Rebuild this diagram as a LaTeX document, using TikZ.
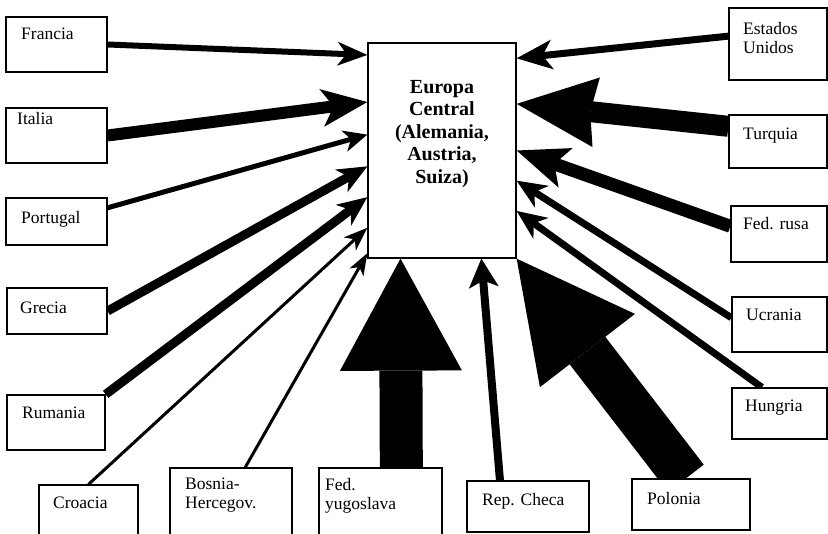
\documentclass[tikz,border=0pt]{standalone}
\usepackage{fontspec}
\setmainfont{Liberation Serif}
\usetikzlibrary{arrows.meta}
\usetikzlibrary{backgrounds}
\tikzset{
    cbox/.style={draw, fill=white, line width=1.3pt, inner sep=0pt},
    ctext/.style={anchor=north west, inner sep=0pt, align=left, font=\fontsize{17.5}{19}\selectfont}
}
\newcommand{\country}[8] {
	\node[cbox, minimum width={(#4-#2)*1pt}, minimum height={(#5-#3)*1pt}] (#1) at ({(#2+#4)/2},{(#3+#5)/2}) {};
	\node[ctext] (#1-t) at (#6,#7) {#8};
}
\newcommand{\flow}[6] {
	\draw[line width=#3pt, -{Stealth[length=#4pt, width=#5pt, inset=#6pt, line width=0pt]}] (#1) -- (#2);
}
\newcommand{\bigflow}[5] {
	\draw[line width=#3pt, -{Triangle[length=#4pt, width=#5pt, line width=0pt]}] (#1) -- (#2);
}

\begin{document}
\begin{tikzpicture}[x=1pt, y=-1pt]
		\clip (0,0) rectangle (828,534);

		% Europa Central
		\node[cbox, minimum width=148pt, minimum height=215pt] (europa) at (442,150.5) {};
		\node[align=center, inner sep=0pt, font=\bfseries\fontsize{20}{22.5}\selectfont] (europa-t) at (442,134) {Europa\\Central\\(Alemania,\\Austria,\\Suiza)};

		% left
		\country{francia}{6}{17}{107}{72}{21}{28}{Francia}
		\country{italia}{6}{108}{107}{163}{17}{112}{Italia}
		\country{portugal}{6}{198}{107}{245}{21}{211}{Portugal}
		\country{grecia}{7}{288}{107}{334}{20}{302}{Grecia}
		\country{rumania}{7}{395}{105}{450}{22}{407}{Rumania}

		% bottom
		\country{croacia}{39}{485}{138}{545}{53}{497}{Croacia}
		\country{bosnia}{170}{468}{292}{545}{185}{478}{Bosnia-\\Hercegov.}
		\country{fedyug}{319}{468}{442}{545}{325}{478}{Fed.\\yugoslava}
		\country{checa}{467}{481}{589}{532}{482}{493}{Rep. Checa}
		\country{polonia}{632}{479}{750}{530}{647}{492}{Polonia}

		% right
		\country{estados}{729}{8}{827}{80}{743}{22}{Estados\\Unidos}
		\country{turquia}{729}{115}{827}{168}{743}{128}{Turquia}
		\country{fedrusa}{731}{206}{827}{262}{743}{217}{Fed. rusa}
		\country{ucrania}{732}{297}{827}{352}{746}{309}{Ucrania}
		\country{hungria}{732}{388}{827}{439}{745}{400}{Hungria}

		% flows
		\begin{pgfonlayer}{background}
		\flow{francia.east}{europa.128.7}{6}{30}{24}{9}
		\flow{italia.east}{europa.147.9}{12}{46}{38}{12}
		\flow{portugal.15}{europa.168.2}{5}{24}{22}{7}
		\flow{grecia.east}{europa.192.6}{9}{30}{26}{9}
		\flow{rumania.north east}{europa.212.1}{9}{30}{26}{9}
		\flow{croacia.north}{europa.226}{3}{24}{18}{7}
		\flow{bosnia.70}{europa.234.4}{3}{22}{16}{6}
		\bigflow{fedyug.62}{europa.249.1}{43}{112}{122}
		\flow{checa.137.7}{europa.290.4}{8}{29}{30}{7}
		\bigflow{polonia.101}{europa.south east}{45}{116}{120}

		\flow{estados.171.9}{europa.51.3}{7}{36}{30}{10}
		\flow{turquia.163.5}{europa.32.7}{21}{80}{70}{6}
		\flow{fedrusa.171.7}{europa.east}{13}{52}{42}{12}
		\flow{ucrania.172.2}{europa.338.3}{7}{30}{26}{9}
		\flow{hungria.124.5}{europa.321.2}{7}{30}{26}{9}
		\end{pgfonlayer}

	\end{tikzpicture}
\end{document}
